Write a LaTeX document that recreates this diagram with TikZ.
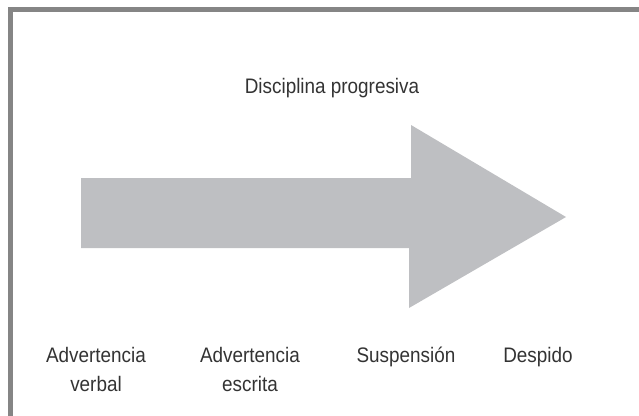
\documentclass[tikz,border=0pt]{standalone}
\usepackage{fontspec}
\setmainfont{Liberation Sans}[FakeStretch=0.9]
\definecolor{framegray}{HTML}{858585}
\definecolor{arrowgray}{HTML}{BEBFC2}
\definecolor{textgray}{HTML}{333333}
\begin{document}
\begin{tikzpicture}[x=1pt, y=-1pt,
    stage/.style={anchor=north, inner sep=0pt, align=center, text=textgray,
      font=\fontsize{21}{29}\selectfont}]
    \useasboundingbox (0,0) rectangle (639,415);
    \begin{scope}
      \clip (0,0) rectangle (639,415);
      \draw[framegray, line width=5pt] (10.5,9.5) rectangle (660,425);
    \end{scope}
    % the big arrow
    \fill[arrowgray] (81,178) -- (411,178) -- (411,125) -- (566,217) -- (409,308)
      -- (409,248) -- (81,248) -- cycle;
    \node[stage] (title) at (332,78) {Disciplina progresiva};
    \node[stage] (verbal) at (96,347) {Advertencia\\verbal};
    \node[stage] (escrita) at (250,347) {Advertencia\\escrita};
    \node[stage] (susp) at (406,347) {Suspensión};
    \node[stage] (despido) at (538,347) {Despido};
\end{tikzpicture}
\end{document}
